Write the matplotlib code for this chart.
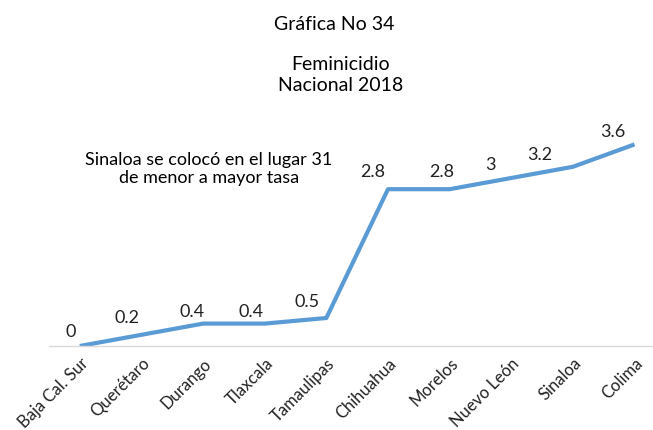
import matplotlib.pyplot as plt

plt.rcParams['font.family'] = ['Lato', 'DejaVu Sans']

estados = ["Baja Cal. Sur", "Querétaro", "Durango", "Tlaxcala", "Tamaulipas",
           "Chihuahua", "Morelos", "Nuevo León", "Sinaloa", "Colima"]
tasas = [0, 0.2, 0.4, 0.4, 0.5, 2.8, 2.8, 3, 3.2, 3.6]
etiquetas = ["0", "0.2", "0.4", "0.4", "0.5", "2.8", "2.8", "3", "3.2", "3.6"]

# desplazamiento de cada etiqueta de dato (pixeles), como en la grafica original
dx = [-9, -14, -11, -14, -19, -15, -8, -21, -33, -22]
dy = [15, 18, 13, 13, 17, 18, 18, 14, 13, 13]

fig = plt.figure(figsize=(6.53, 4.31), dpi=100)
ax = fig.add_axes([49/653, 84/431, (653-49)/653, 224/431])

x = list(range(len(estados)))
ax.plot(x, tasas, color="#5B9BD5", linewidth=3, solid_capstyle="butt")

for xi, yi, t, ox, oy in zip(x, tasas, etiquetas, dx, dy):
    ax.annotate(t, (xi, yi), xytext=(ox, oy), textcoords="offset pixels",
                ha="center", va="center", fontsize=13, color="#222222")

ax.set_xlim(-0.5, 9.3)
ax.set_ylim(0, 4)
ax.set_xticks(x)
ax.set_xticklabels(estados, rotation=45, ha="right", rotation_mode="anchor",
                   fontsize=12, color="#222222")
ax.tick_params(axis="x", length=0, pad=6)
ax.set_yticks([])
for s in ["top", "right", "left"]:
    ax.spines[s].set_visible(False)
ax.spines["bottom"].set_color("#D9D9D9")
ax.spines["bottom"].set_linewidth(1)

fig.text(334/653, 1 - 24/431, "Gráfica No 34", ha="center", va="center", fontsize=14)
fig.text(341/653, 1 - 75/431, "Feminicidio\nNacional 2018", ha="center", va="center",
         fontsize=14, linespacing=1.3)
fig.text(209/653, 1 - 169/431, "Sinaloa se colocó en el lugar 31\nde menor a mayor tasa",
         ha="center", va="center", fontsize=13, linespacing=1.2)

fig.savefig("out.png", dpi=100)
